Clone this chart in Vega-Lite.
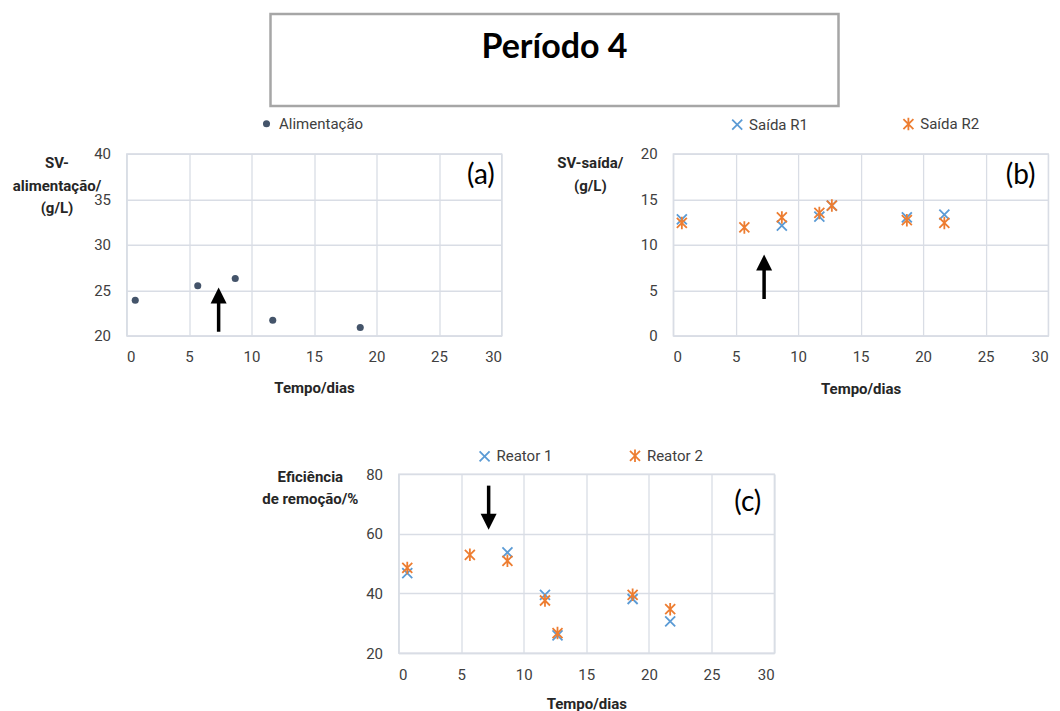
{
  "$schema": "https://vega.github.io/schema/vega-lite/v6.json",
  "background": "white",
  "padding": {"left": 11.5, "top": 12, "right": 0, "bottom": 0},
  "datasets": {
    "alim": [
      {"x": 0.7, "y": 23.9, "serie": "Alimentação"},
      {"x": 5.7, "y": 25.5, "serie": "Alimentação"},
      {"x": 8.7, "y": 26.3, "serie": "Alimentação"},
      {"x": 11.7, "y": 21.7, "serie": "Alimentação"},
      {"x": 18.7, "y": 20.9, "serie": "Alimentação"}
    ],
    "saida": [
      {"x": 0.7, "y": 12.8, "serie": "Saída R1"},
      {"x": 8.7, "y": 12.1, "serie": "Saída R1"},
      {"x": 11.7, "y": 13.1, "serie": "Saída R1"},
      {"x": 12.7, "y": 14.3, "serie": "Saída R1"},
      {"x": 18.7, "y": 13.0, "serie": "Saída R1"},
      {"x": 21.7, "y": 13.3, "serie": "Saída R1"},
      {"x": 0.7, "y": 12.4, "serie": "Saída R2"},
      {"x": 5.7, "y": 11.9, "serie": "Saída R2"},
      {"x": 8.7, "y": 13.0, "serie": "Saída R2"},
      {"x": 11.7, "y": 13.5, "serie": "Saída R2"},
      {"x": 12.7, "y": 14.3, "serie": "Saída R2"},
      {"x": 18.7, "y": 12.7, "serie": "Saída R2"},
      {"x": 21.7, "y": 12.4, "serie": "Saída R2"}
    ],
    "efic": [
      {"x": 0.7, "y": 46.8, "serie": "Reator 1"},
      {"x": 8.7, "y": 53.7, "serie": "Reator 1"},
      {"x": 11.7, "y": 39.5, "serie": "Reator 1"},
      {"x": 12.7, "y": 25.9, "serie": "Reator 1"},
      {"x": 18.7, "y": 38.1, "serie": "Reator 1"},
      {"x": 21.7, "y": 30.6, "serie": "Reator 1"},
      {"x": 0.7, "y": 48.5, "serie": "Reator 2"},
      {"x": 5.7, "y": 52.9, "serie": "Reator 2"},
      {"x": 8.7, "y": 50.9, "serie": "Reator 2"},
      {"x": 11.7, "y": 37.6, "serie": "Reator 2"},
      {"x": 12.7, "y": 26.7, "serie": "Reator 2"},
      {"x": 18.7, "y": 39.5, "serie": "Reator 2"},
      {"x": 21.7, "y": 34.7, "serie": "Reator 2"}
    ],
    "setas": [
      {"painel": "a", "x": 7.37, "y": 20.44, "y2": 24.2, "tip": 25.3},
      {"painel": "b", "x": 7.28, "y": 4.04, "y2": 7.8, "tip": 8.92},
      {"painel": "c", "x": 7.2, "y": 76.1, "y2": 65.5, "tip": 61.3}
    ],
    "rotulos": [
      {"painel": "a", "x": 28.35, "y": 37.6, "label": "(a)"},
      {"painel": "b", "x": 27.8, "y": 17.6, "label": "(b)"},
      {"painel": "c", "x": 27.9, "y": 70.3, "label": "(c)"}
    ]
  },
  "config": {
    "font": "Roboto",
    "view": {"stroke": "#d9dde5", "strokeWidth": 1.3},
    "axis": {
      "labelFont": "Roboto", "labelFontSize": 15, "labelColor": "#404040",
      "titleFont": "Roboto", "titleFontSize": 15, "titleFontWeight": "bold", "titleColor": "#262626",
      "ticks": false, "tickSize": 0,
      "domainColor": "#d9dde5", "domainWidth": 1.3,
      "grid": true, "gridColor": "#d9dde5", "gridWidth": 1.3
    },
    "axisX": {"labelPadding": 14, "titleBaseline": "top"},
    "axisY": {"labelPadding": 16, "titleAngle": 0, "titleAlign": "center", "titleBaseline": "top", "titleLineHeight": 22.5},
    "legend": {
      "labelFont": "Roboto", "labelFontSize": 15, "labelColor": "#404040",
      "orient": "none", "direction": "horizontal", "padding": 0, "title": null
    }
  },
  "resolve": {"scale": {"color": "independent", "shape": "independent"}},
  "spacing": 49,
  "vconcat": [
    {
      "resolve": {"scale": {"color": "independent", "shape": "independent"}},
      "spacing": 6.75,
      "vconcat": [
        {
          "bounds": "flush",
          "spacing": 0,
          "hconcat": [
            {
              "width": 143.2, "height": 92,
              "view": {"stroke": "transparent"},
              "data": {"values": []},
              "mark": {"type": "point", "opacity": 0}
            },
            {
              "width": 568, "height": 92,
              "view": {"stroke": "#a6a6a6", "strokeWidth": 2.5},
              "data": {"values": [{"t": "Período 4"}]},
              "mark": {"type": "text", "font": "Lato", "fontSize": 34, "fontWeight": "bold", "color": "#000000", "dy": -12},
              "encoding": {"text": {"field": "t", "type": "nominal"}}
            }
          ]
        },
        {
          "bounds": "flush",
          "spacing": 171.6,
          "resolve": {"scale": {"color": "independent", "shape": "independent"}},
          "hconcat": [
            {
              "width": 375, "height": 182,
              "encoding": {
                "x": {"field": "x", "type": "quantitative",
                  "scale": {"domain": [0, 30], "nice": false},
                  "axis": {"title": "Tempo/dias", "values": [0, 5, 10, 15, 20, 25, 30], "titleY": 45.2}},
                "y": {"field": "y", "type": "quantitative",
                  "scale": {"domain": [20, 40], "nice": false, "zero": false},
                  "axis": {"title": ["SV-", "alimentação/", "(g/L)"], "values": [20, 25, 30, 35, 40], "titleX": -70, "titleY": 2.2}}
              },
              "layer": [
                {
                  "data": {"name": "alim"},
                  "mark": {"type": "point", "filled": true, "size": 50, "opacity": 1},
                  "encoding": {
                    "color": {"field": "serie", "type": "nominal",
                      "scale": {"domain": ["Alimentação"], "range": ["#44546a"]},
                      "legend": {"legendX": 132.5, "legendY": -37.5, "symbolType": "circle", "symbolSize": 50, "labelOffset": 5, "symbolOpacity": 1}}
                  }
                },
                {
                  "data": {"name": "setas"},
                  "transform": [{"filter": "datum.painel === 'a'"}],
                  "mark": {"type": "rule", "color": "#000000", "strokeWidth": 3.5},
                  "encoding": {"y2": {"field": "y2"}}
                },
                {
                  "data": {"name": "setas"},
                  "transform": [{"filter": "datum.painel === 'a'"}],
                  "mark": {"type": "point", "shape": "M0,0L1,2L-1,2Z", "filled": true, "size": 256, "color": "#000000", "opacity": 1},
                  "encoding": {"y": {"field": "tip", "type": "quantitative", "scale": {"domain": [20, 40], "nice": false, "zero": false}}}
                },
                {
                  "data": {"name": "rotulos"},
                  "transform": [{"filter": "datum.painel === 'a'"}],
                  "mark": {"type": "text", "font": "Lato", "fontSize": 28, "color": "#000000", "baseline": "middle"},
                  "encoding": {"text": {"field": "label", "type": "nominal"}}
                }
              ]
            },
            {
              "width": 375, "height": 182,
              "encoding": {
                "x": {"field": "x", "type": "quantitative",
                  "scale": {"domain": [0, 30], "nice": false},
                  "axis": {"title": "Tempo/dias", "values": [0, 5, 10, 15, 20, 25, 30], "titleY": 45.8}},
                "y": {"field": "y", "type": "quantitative",
                  "scale": {"domain": [0, 20], "nice": false},
                  "axis": {"title": ["SV-saída/", "(g/L)"], "values": [0, 5, 10, 15, 20], "titleX": -83.3, "titleY": 2.2}}
              },
              "layer": [
                {
                  "data": {"name": "saida"},
                  "mark": {"type": "point", "filled": false, "size": 100, "strokeWidth": 1.8, "opacity": 1},
                  "encoding": {
                    "color": {"field": "serie", "type": "nominal",
                      "scale": {"domain": ["Saída R1", "Saída R2"], "range": ["#5b9bd5", "#ed7d31"]},
                      "legend": {"legendX": 56.6, "legendY": -37.5, "columnPadding": 90.2, "labelOffset": 4.4, "symbolSize": 100, "symbolStrokeWidth": 1.8}},
                    "shape": {"field": "serie", "type": "nominal",
                      "scale": {"domain": ["Saída R1", "Saída R2"], "range": ["M-1,-1L1,1M-1,1L1,-1", "M-1,-1L1,1M-1,1L1,-1M0,-1.25L0,1.25"]},
                      "legend": {"legendX": 56.6, "legendY": -37.5, "columnPadding": 90.2, "labelOffset": 4.4, "symbolSize": 100, "symbolStrokeWidth": 1.8}}
                  }
                },
                {
                  "data": {"name": "setas"},
                  "transform": [{"filter": "datum.painel === 'b'"}],
                  "mark": {"type": "rule", "color": "#000000", "strokeWidth": 3.5},
                  "encoding": {"y2": {"field": "y2"}}
                },
                {
                  "data": {"name": "setas"},
                  "transform": [{"filter": "datum.painel === 'b'"}],
                  "mark": {"type": "point", "shape": "M0,0L1,2L-1,2Z", "filled": true, "size": 256, "color": "#000000", "opacity": 1},
                  "encoding": {"y": {"field": "tip", "type": "quantitative", "scale": {"domain": [0, 20], "nice": false}}}
                },
                {
                  "data": {"name": "rotulos"},
                  "transform": [{"filter": "datum.painel === 'b'"}],
                  "mark": {"type": "text", "font": "Lato", "fontSize": 28, "color": "#000000", "baseline": "middle"},
                  "encoding": {"text": {"field": "label", "type": "nominal"}}
                }
              ]
            }
          ]
        }
      ]
    },
    {
      "bounds": "flush",
      "spacing": 0,
      "resolve": {"scale": {"color": "independent", "shape": "independent"}},
      "hconcat": [
        {
          "width": 271.4, "height": 179,
          "view": {"stroke": "transparent"},
          "data": {"values": []},
          "mark": {"type": "point", "opacity": 0}
        },
        {
          "width": 375.6, "height": 179,
          "encoding": {
            "x": {"field": "x", "type": "quantitative",
              "scale": {"domain": [0, 30], "nice": false},
              "axis": {"title": "Tempo/dias", "values": [0, 5, 10, 15, 20, 25, 30], "titleY": 43.5}},
            "y": {"field": "y", "type": "quantitative",
              "scale": {"domain": [20, 80], "nice": false, "zero": false},
              "axis": {"title": ["Eficiência", "de remoção/%"], "values": [20, 40, 60, 80], "titleX": -88.7, "titleY": -4.8}}
          },
          "layer": [
            {
              "data": {"name": "efic"},
              "mark": {"type": "point", "filled": false, "size": 100, "strokeWidth": 1.8, "opacity": 1},
              "encoding": {
                "color": {"field": "serie", "type": "nominal",
                  "scale": {"domain": ["Reator 1", "Reator 2"], "range": ["#5b9bd5", "#ed7d31"]},
                  "legend": {"legendX": 78.6, "legendY": -26, "columnPadding": 72.4, "labelOffset": 4.4, "symbolSize": 100, "symbolStrokeWidth": 1.8}},
                "shape": {"field": "serie", "type": "nominal",
                  "scale": {"domain": ["Reator 1", "Reator 2"], "range": ["M-1,-1L1,1M-1,1L1,-1", "M-1,-1L1,1M-1,1L1,-1M0,-1.25L0,1.25"]},
                  "legend": {"legendX": 78.6, "legendY": -26, "columnPadding": 72.4, "labelOffset": 4.4, "symbolSize": 100, "symbolStrokeWidth": 1.8}}
              }
            },
            {
              "data": {"name": "setas"},
              "transform": [{"filter": "datum.painel === 'c'"}],
              "mark": {"type": "rule", "color": "#000000", "strokeWidth": 3.5},
              "encoding": {"y2": {"field": "y2"}}
            },
            {
              "data": {"name": "setas"},
              "transform": [{"filter": "datum.painel === 'c'"}],
              "mark": {"type": "point", "shape": "M0,0L1,-2L-1,-2Z", "filled": true, "size": 256, "color": "#000000", "opacity": 1},
              "encoding": {"y": {"field": "tip", "type": "quantitative", "scale": {"domain": [20, 80], "nice": false, "zero": false}}}
            },
            {
              "data": {"name": "rotulos"},
              "transform": [{"filter": "datum.painel === 'c'"}],
              "mark": {"type": "text", "font": "Lato", "fontSize": 28, "color": "#000000", "baseline": "middle"},
              "encoding": {"text": {"field": "label", "type": "nominal"}}
            }
          ]
        }
      ]
    }
  ]
}
